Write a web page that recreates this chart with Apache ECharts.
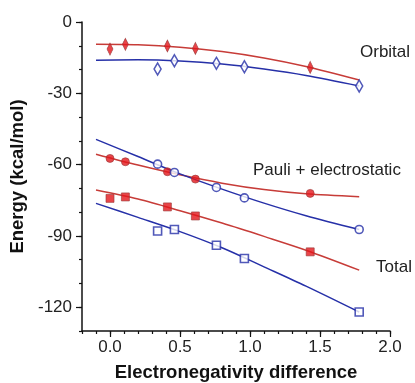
<!DOCTYPE html>
<html>
  <head>
    <meta charset="UTF-8" />
    <title>Energy vs electronegativity difference</title>
    <script src="https://cdn.jsdelivr.net/npm/echarts@6/dist/echarts.min.js"></script>
    <style>
      body {
        padding: 0;
        margin: 0;
        background: #fff;
      }
      #main {
        width: 415px;
        height: 383px;
      }
    </style>
  </head>
  <body>
    <div id="main"></div>
    <script type="text/javascript">
      // measured points (red = filled, blue = open)
      var xRed = [0.0, 0.11, 0.41, 0.61, 1.43];
      var xBlue = [0.34, 0.46, 0.76, 0.96, 1.78];

      var orbRed = [-11.4, -9.4, -10.1, -11.1, -19.1];
      var orbBlue = [-19.8, -16.3, -17.4, -18.8, -26.9];
      var pauliRed = [-57.4, -58.8, -63.0, -66.1, -72.1];
      var pauliBlue = [-59.8, -63.3, -69.6, -74.0, -87.3];
      var totRed = [-74.2, -73.6, -77.8, -81.6, -96.7];
      var totBlue = [-87.9, -87.3, -93.9, -99.5, -122.0];

      // fitted curves at evenly spaced x
      var fitX = [-0.1, 0.2, 0.5, 0.8, 1.1, 1.4, 1.78];
      var orbRedFit = [-9.4, -9.6, -10.6, -12.4, -15.1, -18.7, -24.4];
      var orbBlueFit = [-16.1, -15.9, -16.4, -17.7, -19.8, -22.5, -26.9];
      var pauliRedFit = [-55.6, -60.2, -64.3, -67.8, -70.5, -72.3, -73.5];
      var pauliBlueFit = [-49.4, -56.6, -63.9, -70.3, -76.2, -81.5, -87.3];
      var totRedFit = [-70.7, -74.5, -79.4, -84.6, -90.2, -96.0, -104.4];
      var totBlueFit = [-76.3, -82.2, -88.2, -95.0, -103.0, -111.1, -122.0];

      var xTicks = [0, 0.5, 1.0, 1.5, 2.0];
      var yTicks = [0, -30, -60, -90, -120];

      var RED = "#c73c38";
      var RED_FILL = "#e3171c";
      var BLUE = "#2630a8";
      var FONT = "Liberation Sans, Arial, sans-serif";

      function pairs(xs, ys) {
        return xs.map(function(x, i) {
          return [x, ys[i]];
        });
      }

      function fitLine(ys, color) {
        return {
          type: "line",
          data: pairs(fitX, ys),
          smooth: 0.3,
          showSymbol: false,
          silent: true,
          z: 1,
          lineStyle: { color: color, width: 1.5 }
        };
      }

      function points(xs, ys, symbol, size, filled) {
        return {
          type: "scatter",
          data: pairs(xs, ys),
          symbol: symbol,
          symbolSize: size,
          z: 3,
          itemStyle: filled
            ? { color: RED_FILL, borderColor: "#9a3a3a", borderWidth: 0.8 }
            : { color: "#fff", borderColor: BLUE, borderWidth: 1.6 }
        };
      }

      var chart = echarts.init(document.getElementById("main"));
      var option = {
        animation: false,
        textStyle: { fontFamily: FONT },
        grid: { left: 82, right: 25, top: 22, bottom: 52, outerBoundsMode: "none" },
        xAxis: [
          {
            type: "value",
            min: -0.2,
            max: 2.0,
            interval: 0.1,
            axisLine: { onZero: false, lineStyle: { color: "#111", width: 1.5 } },
            axisTick: { length: 3, lineStyle: { color: "#111", width: 1.2 } },
            axisLabel: { show: false },
            splitLine: { show: false }
          },
          {
            type: "value",
            position: "bottom",
            min: -0.2,
            max: 2.0,
            interval: 0.1,
            axisLine: { show: false, onZero: false },
            axisTick: {
              customValues: xTicks,
              length: 6,
              lineStyle: { color: "#111", width: 1.2 }
            },
            axisLabel: {
              customValues: xTicks,
              fontSize: 17,
              color: "#222",
              margin: 8,
              formatter: function(v) {
                return v.toFixed(1);
              }
            },
            splitLine: { show: false },
            name: "Electronegativity difference",
            nameLocation: "middle",
            nameGap: 32,
            nameTextStyle: { fontSize: 18.5, fontWeight: "bold", color: "#111" }
          }
        ],
        yAxis: [
          {
            type: "value",
            min: -130,
            max: 0,
            interval: 10,
            axisLine: { show: true, onZero: false, lineStyle: { color: "#111", width: 1.5 } },
            axisTick: { show: true, length: 3, lineStyle: { color: "#111", width: 1.2 } },
            axisLabel: { show: false },
            splitLine: { show: false }
          },
          {
            type: "value",
            position: "left",
            min: -130,
            max: 0,
            interval: 10,
            axisLine: { show: false, onZero: false },
            axisTick: {
              show: true,
              customValues: yTicks,
              length: 6,
              lineStyle: { color: "#111", width: 1.2 }
            },
            axisLabel: {
              customValues: yTicks,
              fontSize: 17,
              color: "#222",
              margin: 10
            },
            splitLine: { show: false },
            name: "Energy (kcal/mol)",
            nameLocation: "middle",
            nameGap: 46,
            nameRotate: 90,
            nameTextStyle: { fontSize: 18.5, fontWeight: "bold", color: "#111" }
          }
        ],
        graphic: [
          { type: "text", left: 360, top: 44, style: { text: "Orbital", fontSize: 17, fill: "#222", fontFamily: FONT } },
          { type: "text", left: 253, top: 162, style: { text: "Pauli + electrostatic", fontSize: 17, fill: "#222", fontFamily: FONT } },
          { type: "text", left: 376, top: 259, style: { text: "Total", fontSize: 17, fill: "#222", fontFamily: FONT } }
        ],
        series: [
          fitLine(orbRedFit, RED),
          fitLine(orbBlueFit, BLUE),
          fitLine(pauliRedFit, RED),
          fitLine(pauliBlueFit, BLUE),
          fitLine(totRedFit, RED),
          fitLine(totBlueFit, BLUE),
          points(xRed, orbRed, "diamond", [6, 12], true),
          points(xBlue, orbBlue, "diamond", [7, 12], false),
          points(xRed, pauliRed, "circle", 8, true),
          points(xBlue, pauliBlue, "circle", 8, false),
          points(xRed, totRed, "rect", 8, true),
          points(xBlue, totBlue, "rect", 8, false)
        ]
      };
      chart.setOption(option);
    </script>
  </body>
</html>
